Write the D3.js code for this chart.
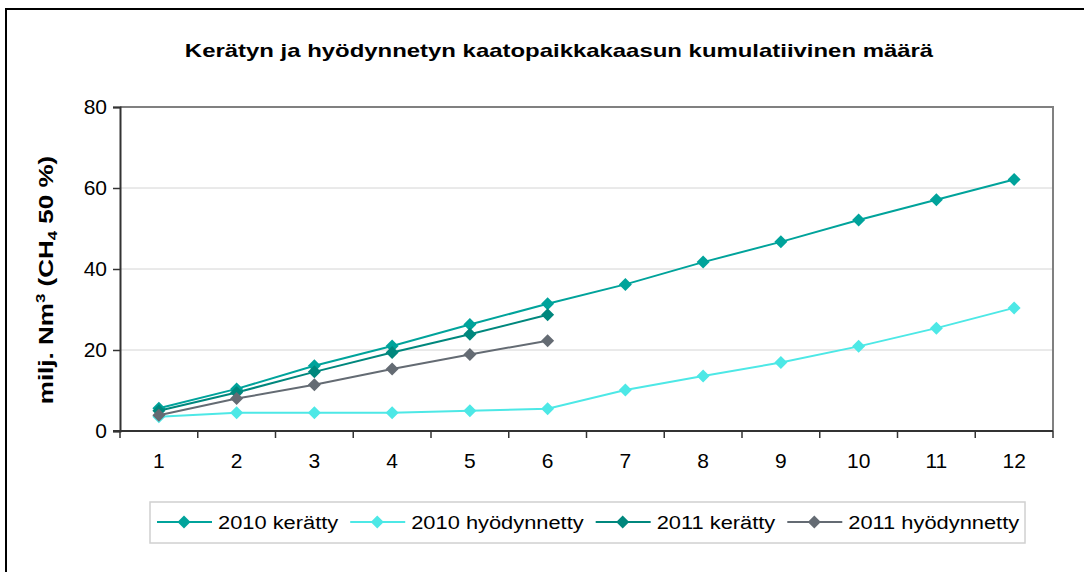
<!DOCTYPE html>
<html>
<head>
<meta charset="utf-8">
<script src="https://cdn.jsdelivr.net/npm/d3@7"></script>
<style>
  html, body { margin: 0; padding: 0; background: #fff; }
  svg { display: block; font-family: "Liberation Sans", Arial, sans-serif; }
</style>
</head>
<body>
<svg id="chart" width="1084" height="572"></svg>
<script>
// data
var months = ['1', '2', '3', '4', '5', '6', '7', '8', '9', '10', '11', '12'];
var yTicks = [0, 20, 40, 60, 80];
var seriesNames = ['2010 kerätty', '2010 hyödynnetty', '2011 kerätty', '2011 hyödynnetty'];
var seriesColors = ['#00a39b', '#4de8e6', '#00877d', '#646b73'];
var kerattu2010 = [5.6, 10.4, 16.1, 21.0, 26.3, 31.4, 36.2, 41.7, 46.7, 52.1, 57.1, 62.1];
var hyodynnetty2010 = [3.5, 4.5, 4.5, 4.5, 5.0, 5.5, 10.1, 13.6, 16.9, 20.9, 25.4, 30.4];
var kerattu2011 = [5.0, 9.5, 14.6, 19.4, 23.9, 28.7];
var hyodynnetty2011 = [3.9, 8.0, 11.4, 15.3, 18.9, 22.3];
var seriesValues = [kerattu2010, hyodynnetty2010, kerattu2011, hyodynnetty2011];

var dom = {};
var plot = { left: 120, right: 1053, top: 107, bottom: 431 };

function initialize() {
    dom.svg = d3.select('#chart');
    dom.x = d3.scaleBand().domain(months).range([plot.left, plot.right]);
    dom.y = d3.scaleLinear().domain([0, 80]).range([plot.bottom, plot.top]);

    drawFrame();
    drawAxes();
    drawSeries();
    drawLegend();
}

function drawFrame() {
    dom.svg.append('rect')
        .attr('x', 6).attr('y', 9)
        .attr('width', 1100).attr('height', 600)
        .attr('fill', 'none').attr('stroke', '#000').attr('stroke-width', 2);

    // the original text is drawn wider than plain Arial, hence the scale
    dom.svg.append('text')
        .attr('transform', 'translate(559,57) scale(1.33,1)')
        .attr('text-anchor', 'middle')
        .style('font-weight', 'bold').style('font-size', '18px')
        .text('Kerätyn ja hyödynnetyn kaatopaikkakaasun kumulatiivinen määrä');

    // gridlines
    dom.svg.append('g').selectAll('line')
        .data(yTicks.filter(function(d) { return d > 0 && d < 80; }))
        .enter().append('line')
            .attr('x1', plot.left).attr('x2', plot.right)
            .attr('y1', function(d) { return dom.y(d); })
            .attr('y2', function(d) { return dom.y(d); })
            .attr('stroke', '#d4d4d4').attr('stroke-width', 1);

    // top and right border of plot area
    dom.svg.append('path')
        .attr('d', 'M' + plot.left + ',' + plot.top + 'H' + plot.right + 'V' + plot.bottom)
        .attr('fill', 'none').attr('stroke', '#808080').attr('stroke-width', 2);
}

function drawAxes() {
    var yAxis = d3.axisLeft(dom.y).tickValues(yTicks).tickSize(7).tickPadding(6);
    var gy = dom.svg.append('g')
        .attr('transform', 'translate(' + plot.left + ',0)')
        .call(yAxis);
    gy.select('.domain').attr('stroke', '#333').attr('stroke-width', 2);
    gy.selectAll('.tick line').attr('stroke', '#333').attr('stroke-width', 1.5);
    gy.selectAll('.tick text').style('font-size', '21px').attr('fill', '#000')
        .style('font-family', '"Liberation Sans", Arial, sans-serif');

    var xAxis = d3.axisBottom(dom.x).tickSize(0).tickPadding(22);
    var gx = dom.svg.append('g')
        .attr('transform', 'translate(0,' + plot.bottom + ')')
        .call(xAxis);
    gx.select('.domain').remove();
    gx.selectAll('.tick text').style('font-size', '21px').attr('fill', '#000')
        .style('font-family', '"Liberation Sans", Arial, sans-serif');

    // x axis line and ticks at category boundaries
    dom.svg.append('line')
        .attr('x1', plot.left - 7).attr('x2', plot.right)
        .attr('y1', plot.bottom).attr('y2', plot.bottom)
        .attr('stroke', '#333').attr('stroke-width', 2);
    var bounds = months.map(function(m) { return dom.x(m); }).concat([plot.right]);
    dom.svg.append('g').selectAll('line')
        .data(bounds)
        .enter().append('line')
            .attr('x1', function(d) { return d; }).attr('x2', function(d) { return d; })
            .attr('y1', plot.bottom).attr('y2', plot.bottom + 7)
            .attr('stroke', '#333').attr('stroke-width', 1.5);

    var ylab = dom.svg.append('text')
        .attr('transform', 'translate(53,280) rotate(-90) scale(1.3,1)')
        .attr('text-anchor', 'middle')
        .style('font-weight', 'bold').style('font-size', '20px');
    ylab.append('tspan').text('milj. Nm');
    ylab.append('tspan').attr('dy', -8).style('font-size', '13px').text('3');
    ylab.append('tspan').attr('dy', 8).text(' (CH');
    ylab.append('tspan').attr('dy', 4).style('font-size', '13px').text('4');
    ylab.append('tspan').attr('dy', -4).text(' 50 %)');
}

function diamond(cx, cy, r) {
    return 'M' + cx + ',' + (cy - r) + 'L' + (cx + r) + ',' + cy + 'L' + cx + ',' + (cy + r) + 'L' + (cx - r) + ',' + cy + 'Z';
}

function drawSeries() {
    var line = d3.line()
        .x(function(d, i) { return dom.x(months[i]) + dom.x.bandwidth() / 2; })
        .y(function(d) { return dom.y(d); });

    var groups = dom.svg.append('g').selectAll('.series')
        .data(seriesValues)
        .enter().append('g')
            .classed('series', true);

    groups.append('path')
        .attr('d', function(d) { return line(d); })
        .attr('fill', 'none')
        .attr('stroke', function(d, i) { return seriesColors[i]; })
        .attr('stroke-width', 2);

    groups.each(function(vals, si) {
        d3.select(this).selectAll('.marker')
            .data(vals)
            .enter().append('path')
                .classed('marker', true)
                .attr('d', function(d, i) {
                    return diamond(dom.x(months[i]) + dom.x.bandwidth() / 2, dom.y(d), 6.5);
                })
                .attr('fill', seriesColors[si]);
    });
}

function drawLegend() {
    dom.svg.append('rect')
        .attr('x', 150).attr('y', 502).attr('width', 875).attr('height', 41)
        .attr('fill', '#fff').attr('stroke', '#d0d0d0').attr('stroke-width', 1.5);

    var x = 157, cy = 522, sx = 1.15;
    seriesNames.forEach(function(name, i) {
        var g = dom.svg.append('g');
        g.append('line')
            .attr('x1', x).attr('x2', x + 55)
            .attr('y1', cy).attr('y2', cy)
            .attr('stroke', seriesColors[i]).attr('stroke-width', 2);
        g.append('path')
            .attr('d', diamond(x + 27, cy, 6.5))
            .attr('fill', seriesColors[i]);
        var t = g.append('text')
            .attr('transform', 'translate(' + (x + 61) + ',' + (cy + 7) + ') scale(' + sx + ',1)')
            .style('font-size', '19px')
            .text(name);
        x = x + 61 + t.node().getComputedTextLength() * sx + 12;
    });
}

initialize();
</script>
</body>
</html>
